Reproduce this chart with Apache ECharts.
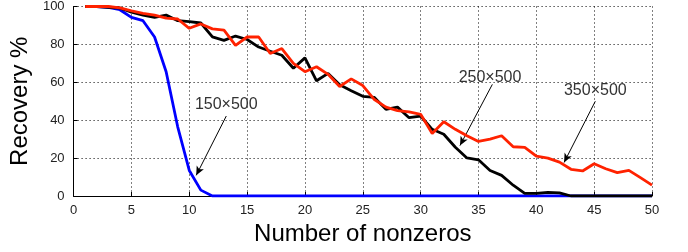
<!DOCTYPE html>
<html>
<head>
<meta charset="utf-8">
<script src="https://cdn.jsdelivr.net/npm/echarts@6/dist/echarts.min.js"></script>
<style>
  html, body { margin: 0; padding: 0; background: #fff; }
  #myChart { width: 688px; height: 252px; }
</style>
</head>
<body>
<div id="myChart"></div>
<script>
// x轴: 非零元个数
var nonzeros = [];
for (var i = 1; i <= 50; i++) { nonzeros.push(i); }
var xTicks = [0, 5, 10, 15, 20, 25, 30, 35, 40, 45, 50];
var yTicks = [0, 20, 40, 60, 80, 100];

// 150x500 恢复率
var rec150 = [100, 100, 99.5, 98.3, 94.3, 92.5, 83.9, 65.6, 36.5, 13.5,
    3.1, 0, 0, 0, 0, 0, 0, 0, 0, 0,
    0, 0, 0, 0, 0, 0, 0, 0, 0, 0,
    0, 0, 0, 0, 0, 0, 0, 0, 0, 0,
    0, 0, 0, 0, 0, 0, 0, 0, 0, 0];
// 250x500 恢复率
var rec250 = [100, 100, 99.6, 99.2, 97, 95.5, 94.3, 95.5, 92.5, 92,
    91.3, 84, 82.1, 84.4, 82.6, 78.6, 76.4, 74.3, 67.4, 72.9,
    60.8, 64.7, 58.7, 55.6, 52.6, 52, 45.7, 46.9, 41.3, 42.2,
    35.2, 32.6, 25.7, 20.1, 19.1, 13.5, 10.9, 5.7, 1.4, 1.4,
    1.9, 1.6, 0, 0, 0, 0, 0, 0, 0, 0];
// 350x500 恢复率
var rec350 = [100, 100, 100, 99.3, 97.7, 96.4, 95.5, 93.9, 93.4, 88.5,
    90.8, 88.2, 87.5, 79.5, 83.9, 83.9, 75.2, 77.8, 70, 65.6,
    68.2, 64.2, 57.8, 61.8, 58.3, 50.9, 46.9, 45.1, 44.4, 43.1,
    33, 39.2, 35.2, 31.8, 28.8, 30, 31.8, 26, 25.7, 21,
    20, 17.9, 14.1, 13.2, 17, 14.4, 12.3, 13.5, 9.7, 5.7];

// 标注: 文字位置 + 箭头 (数据坐标)
var labels = ['150\u00d7500', '250\u00d7500', '350\u00d7500'];
var labelPos = [[13.2, 48.4], [36.0, 62.5], [45.1, 55.7]];
var arrowFrom = [[13.2, 42.2], [36.2, 58.9], [45.1, 50.0]];
var arrowTo = [[10.6, 10.9], [33.4, 26.6], [42.4, 17.7]];

function pairs(ys) {
    var out = [];
    for (var j = 0; j < ys.length; j++) { out.push([nonzeros[j], ys[j]]); }
    return out;
}

function note(k) {
    return {
        markPoint: {
            symbol: 'circle',
            symbolSize: 1,
            silent: true,
            itemStyle: { color: 'rgba(0,0,0,0)' },
            label: {
                show: true, position: 'inside', formatter: labels[k],
                color: '#333', fontSize: 16, fontFamily: 'Liberation Sans, Arial, sans-serif'
            },
            data: [{ coord: labelPos[k] }]
        },
        markLine: {
            silent: true,
            symbol: ['none', 'arrow'],
            symbolSize: [6, 9],
            label: { show: false },
            lineStyle: { color: '#000', width: 1, type: 'solid' },
            data: [[{ coord: arrowFrom[k] }, { coord: arrowTo[k] }]]
        }
    };
}

var font = 'Liberation Sans, Arial, Helvetica, sans-serif';
var gridLine = { show: true, lineStyle: { color: '#000', width: 1, type: [1, 3] } };

var myChart = echarts.init(document.getElementById('myChart'));
var seriesList = [];
var specs = [[rec150, '#0000ff'], [rec250, '#000000'], [rec350, '#ff2200']];
for (var s = 0; s < specs.length; s++) {
    var ser = {
        type: 'line',
        data: pairs(specs[s][0]),
        showSymbol: false,
        symbol: 'none',
        lineStyle: { color: specs[s][1], width: 2.8 },
        z: 3 + s
    };
    var n = note(s);
    ser.markPoint = n.markPoint;
    ser.markLine = n.markLine;
    seriesList.push(ser);
}

var option = {
    animation: false,
    backgroundColor: '#fff',
    grid: { left: 73, right: 36, top: 4, bottom: 56 },
    xAxis: {
        type: 'value',
        min: 0, max: 50, interval: 5,
        name: 'Number of nonzeros',
        nameLocation: 'middle',
        nameGap: 25,
        nameTextStyle: { fontSize: 24, color: '#000', fontFamily: font },
        axisLine: { show: true, lineStyle: { color: '#000', width: 1 } },
        axisTick: { show: true, inside: true, length: 4, lineStyle: { color: '#000' } },
        axisLabel: {
            margin: 8, fontSize: 13, color: '#222', fontFamily: font,
            formatter: function (v) { return xTicks.indexOf(v) >= 0 ? v : ''; }
        },
        splitLine: gridLine
    },
    yAxis: {
        type: 'value',
        min: 0, max: 100, interval: 20,
        name: 'Recovery %',
        nameLocation: 'middle',
        nameGap: 33,
        nameTextStyle: { fontSize: 24, color: '#000', fontFamily: font },
        axisLine: { show: true, lineStyle: { color: '#000', width: 1 } },
        axisTick: { show: true, inside: true, length: 4, lineStyle: { color: '#000' } },
        axisLabel: {
            margin: 9, fontSize: 13, color: '#222', fontFamily: font,
            formatter: function (v) { return yTicks.indexOf(v) >= 0 ? v : ''; }
        },
        splitLine: gridLine
    },
    series: seriesList
};
myChart.setOption(option);
window.onresize = myChart.resize;
</script>
</body>
</html>
